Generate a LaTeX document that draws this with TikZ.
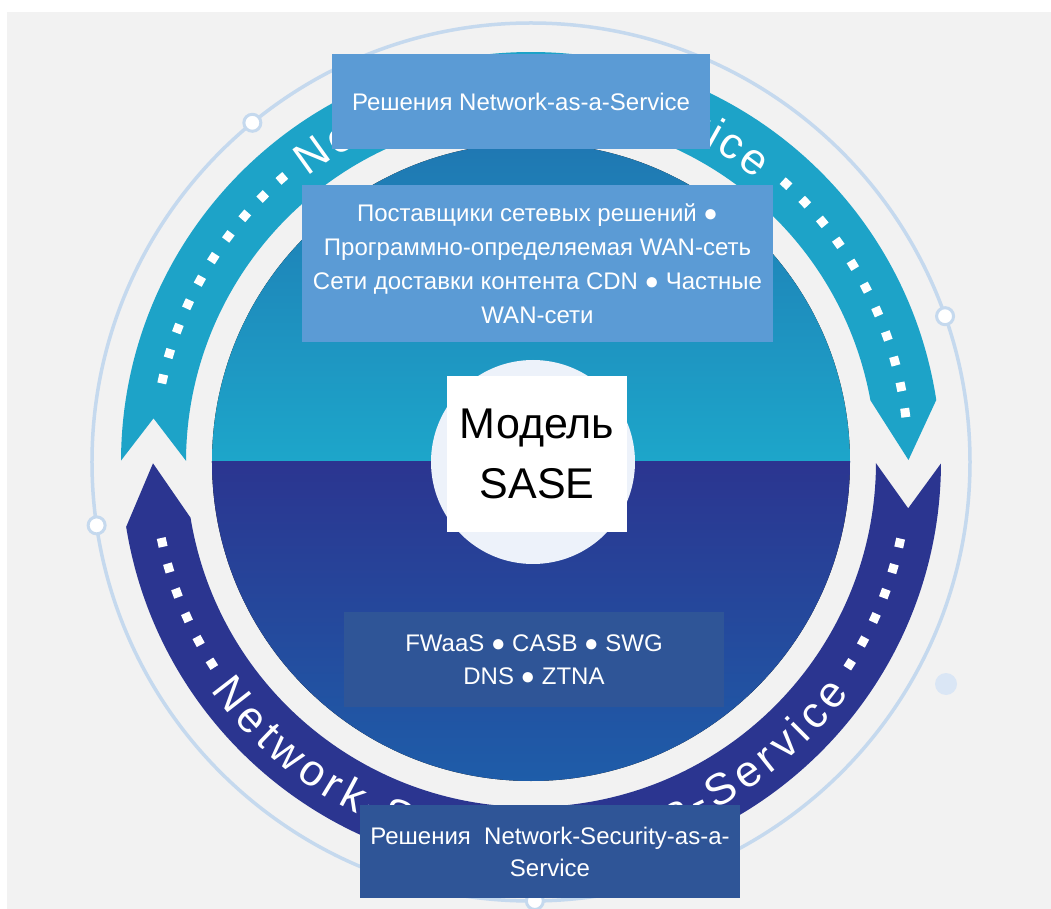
\documentclass[tikz,border=0pt]{standalone}
\usepackage{fontspec}
\setmainfont{Liberation Sans}
\usetikzlibrary{decorations.text}
\definecolor{bgc}{HTML}{F2F2F2}
\definecolor{ringc}{HTML}{C5D9EE}
\definecolor{faintc}{HTML}{DAE6F5}
\definecolor{cyanrib}{HTML}{1DA3C8}
\definecolor{darkrib}{HTML}{2B3590}
\definecolor{uptop}{HTML}{1F77B2}
\definecolor{upbot}{HTML}{1DA6CA}
\definecolor{lowtop}{HTML}{2B3590}
\definecolor{lowmid}{HTML}{2A3894}
\definecolor{lowbot}{HTML}{1E5DA9}
\definecolor{innerc}{HTML}{EDF2FA}
\definecolor{boxl}{HTML}{5B9BD5}
\definecolor{boxd}{HTML}{2F5597}
\newcommand{\ribfont}{\fontsize{44}{44}\selectfont}
\begin{document}
\begin{tikzpicture}[x=1pt,y=1pt,
  ringline/.style={draw=ringc, line width=3.5pt},
  ringdot/.style={circle, fill=white, draw=ringc, line width=3pt, minimum size=17pt, inner sep=0pt},
  sqdot/.style={fill=white},
  boxlight/.style={fill=boxl, text=white, align=center, inner sep=0pt, font=\fontsize{24}{34}\selectfont},
  boxdark/.style={fill=boxd, text=white, align=center, inner sep=0pt, font=\fontsize{24}{33}\selectfont},
  modelbox/.style={fill=white, text=black, align=center, inner sep=0pt, font=\fontsize{43}{60}\selectfont},
  ribtext/.style={decorate, decoration={text along path, text color=white, text align={fit to path}, text={#1}}}
]
\useasboundingbox (-531,-447) rectangle (520,462);
\fill[bgc] (-524,-447) rectangle (520,450);

% thin outer ring with small nodes
\draw[ringline] (0,0) circle (439);
\node[ringdot] (r1) at (129.4:439) {};
\node[ringdot] (r2) at (19.4:439) {};
\node[ringdot] (r3) at (188.3:439) {};
\node[ringdot] (r4) at (270.5:439) {};
\fill[faintc] (415,-222) circle (11);

% upper (cyan) ribbon
\fill[cyanrib] (179.8:410) arc[start angle=179.8, end angle=8.7, radius=410]
  -- (0.3:377.5) -- (10.3:345) arc[start angle=10.3, end angle=179.8, radius=345]
  -- (173.4:380) -- cycle;
% lower (dark) ribbon
\fill[darkrib] (-0.2:410) arc[start angle=-0.2, end angle=-170.9, radius=410]
  -- (-179.8:378) -- (-170.7:345) arc[start angle=-170.7, end angle=-0.2, radius=345]
  -- (-7:380) -- cycle;

% square dots along ribbons
\foreach \k in {0,...,9} {\pgfmathsetmacro{\a}{131.3+4*\k}
  \fill[sqdot, shift={(\a:377.5)}, rotate=\a] (-4.5,-4.5) rectangle (4.5,4.5);}
\foreach \k in {0,...,10} {\pgfmathsetmacro{\a}{7.5+4*\k}
  \fill[sqdot, shift={(\a:377.5)}, rotate=\a] (-4.5,-4.5) rectangle (4.5,4.5);}
\foreach \k in {0,...,5} {\pgfmathsetmacro{\a}{192.3+4*\k}
  \fill[sqdot, shift={(\a:377.5)}, rotate=\a] (-4.5,-4.5) rectangle (4.5,4.5);}
\foreach \k in {0,...,5} {\pgfmathsetmacro{\a}{327.6+4*\k}
  \fill[sqdot, shift={(\a:377.5)}, rotate=\a] (-4.5,-4.5) rectangle (4.5,4.5);}

% ribbon texts
\path[ribtext={|\ribfont|Network-as-a-Service}] (128:362) arc[start angle=128, end angle=51.5, radius=362];
\path[ribtext={|\ribfont|Network-Security-as-a-Service}] (215.5:393) arc[start angle=215.5, end angle=324, radius=393];

% inner disk
\begin{scope}
  \clip (0,0) circle (319);
  \fill[top color=uptop, bottom color=upbot] (-320,320) rectangle (320,0);
  \fill[top color=lowtop, middle color=lowmid, bottom color=lowbot] (-320,0) rectangle (320,-320);
\end{scope}
\fill[innerc] (2,0) circle (102);

% boxes
\node[boxlight, minimum width=378pt, minimum height=95pt] (naas) at (-10,360.5) {Решения Network-as-a-Service};
\node[boxlight, minimum width=471pt, minimum height=157pt] (prov) at (6.5,198.5)
  {Поставщики сетевых решений ●\\Программно-определяемая WAN-сеть\\Сети доставки контента CDN ● Частные\\WAN-сети};
\node[modelbox, minimum width=180pt, minimum height=156pt] (model) at (6,8) {Модель\\SASE};
\node[boxdark, minimum width=380pt, minimum height=95pt] (sec) at (3,-197.5) {FWaaS ● CASB ● SWG\\DNS ● ZTNA};
\node[boxdark, minimum width=380pt, minimum height=93pt, font=\fontsize{24}{32}\selectfont] (nsaas) at (19,-389.5)
  {Решения~ Network-Security-as-a-\\Service};
\end{tikzpicture}
\end{document}
